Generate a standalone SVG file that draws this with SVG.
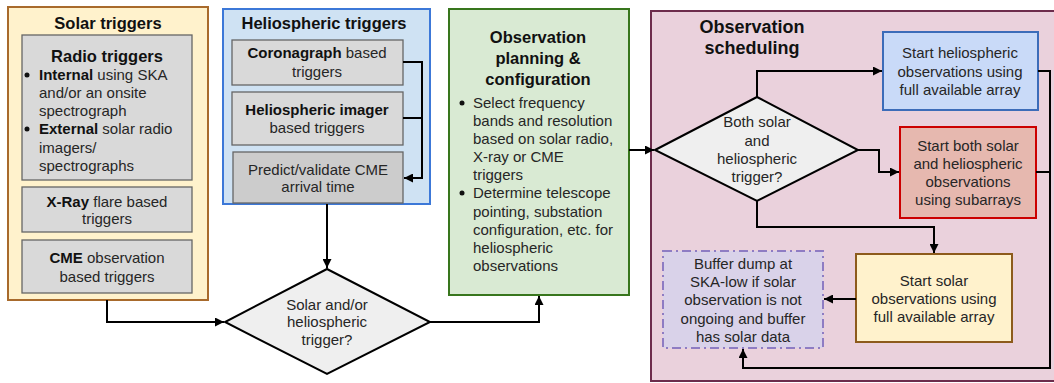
<svg xmlns="http://www.w3.org/2000/svg" width="1054" height="383" viewBox="0 0 1054 383">
<defs>
<marker id="arr" markerUnits="userSpaceOnUse" viewBox="0 0 10 10" refX="10" refY="5" markerWidth="11" markerHeight="9" orient="auto">
<path d="M0,0 L10,5 L0,10 z" fill="#000"/>
</marker>
</defs>
<style>
text{font-family:"Liberation Sans",Arial,sans-serif;font-size:15px;fill:#262626}
.c{text-anchor:middle}
.b{font-weight:bold;fill:#111}
.t{font-weight:bold;font-size:16.5px;fill:#111;text-anchor:middle}
.gray{fill:#d9d9d9;stroke:#666;stroke-width:1.3}
.line{fill:none;stroke:#000;stroke-width:2}
.dia{fill:#efefef;stroke:#000;stroke-width:2}
</style>
<g id="solar-triggers">
<rect x="8" y="7" width="200" height="293" fill="#fff2cc" stroke="#a86a2c" stroke-width="2"/>
<text x="108" y="29" class="t">Solar triggers</text>
</g>
<g id="radio-triggers">
<rect x="22" y="35" width="170" height="145" class="gray"/>
<text x="107" y="62" class="t">Radio triggers</text>
<circle cx="27" cy="75" r="2.5" fill="#111"/>
<circle cx="27" cy="129" r="2.5" fill="#111"/>
<text x="39" y="80"><tspan class="b">Internal</tspan> using SKA</text>
<text x="39" y="98">and/or an onsite</text>
<text x="39" y="116">spectrograph</text>
<text x="39" y="134"><tspan class="b">External</tspan> solar radio</text>
<text x="39" y="153">imagers/</text>
<text x="39" y="171">spectrographs</text>
</g>
<g id="xray-triggers">
<rect x="22" y="187" width="170" height="45" class="gray"/>
<text x="107" y="207" class="c"><tspan class="b">X-Ray</tspan> flare based</text>
<text x="107" y="224" class="c">triggers</text>
</g>
<g id="cme-triggers">
<rect x="22" y="240" width="170" height="53" class="gray"/>
<text x="107" y="263" class="c"><tspan class="b">CME</tspan> observation</text>
<text x="107" y="282" class="c">based triggers</text>
</g>
<g id="heliospheric-triggers">
<rect x="223" y="9" width="207" height="195" fill="#cfe2f3" stroke="#3c78d8" stroke-width="2"/>
<text x="324" y="29" class="t">Heliospheric triggers</text>
</g>
<g id="coronagraph">
<rect x="232" y="40" width="171" height="45" class="gray"/>
<text x="317" y="58" class="c"><tspan class="b">Coronagraph</tspan> based</text>
<text x="317" y="77" class="c">triggers</text>
</g>
<g id="helio-imager">
<rect x="232" y="92" width="171" height="53" class="gray"/>
<text x="317" y="115" class="c b">Heliospheric imager</text>
<text x="317" y="133" class="c">based triggers</text>
</g>
<g id="predict">
<rect x="233" y="152" width="170" height="51" fill="#cccccc" stroke="#666" stroke-width="1.3"/>
<text x="318" y="175" class="c">Predict/validate CME</text>
<text x="318" y="192" class="c">arrival time</text>
</g>
<g id="decision-trigger">
<polygon points="327,269 430,322 327,374 225,322" class="dia"/>
<text x="327" y="310" class="c">Solar and/or</text>
<text x="327" y="327" class="c">heliospheric</text>
<text x="327" y="345" class="c">trigger?</text>
</g>
<g id="planning">
<rect x="449" y="9" width="180" height="286" fill="#d9ead3" stroke="#38761d" stroke-width="2"/>
<text x="538" y="43" class="t">Observation</text>
<text x="538" y="64" class="t">planning &amp;</text>
<text x="538" y="85" class="t">configuration</text>
<circle cx="462" cy="103" r="2.5" fill="#111"/>
<circle cx="462" cy="193" r="2.5" fill="#111"/>
<text x="473" y="108">Select frequency</text>
<text x="473" y="126">bands and resolution</text>
<text x="473" y="144">based on solar radio,</text>
<text x="473" y="162">X-ray or CME</text>
<text x="473" y="180">triggers</text>
<text x="473" y="198">Determine telescope</text>
<text x="473" y="217">pointing, substation</text>
<text x="473" y="235">configuration, etc. for</text>
<text x="473" y="253">heliospheric</text>
<text x="473" y="271">observations</text>
</g>
<g id="scheduling">
<rect x="651" y="11" width="410" height="370" fill="#ead1dc" stroke="#6d2c4c" stroke-width="2"/>
<text x="752" y="33" class="t" style="font-size:18px">Observation</text>
<text x="752" y="54" class="t" style="font-size:18px">scheduling</text>
</g>
<g id="decision-both">
<polygon points="655,150 757,97 858,150 757,201" class="dia"/>
<text x="757" y="127" class="c">Both solar</text>
<text x="757" y="146" class="c">and</text>
<text x="757" y="164" class="c">heliospheric</text>
<text x="757" y="182" class="c">trigger?</text>
</g>
<g id="start-helio">
<rect x="883" y="32" width="155" height="78" fill="#c9daf8" stroke="#3c6cb9" stroke-width="2"/>
<text x="960" y="58" class="c">Start heliospheric</text>
<text x="960" y="77" class="c">observations using</text>
<text x="960" y="95" class="c">full available array</text>
</g>
<g id="start-both">
<rect x="900" y="127" width="136" height="91" fill="#e6b8af" stroke="#cc0000" stroke-width="2"/>
<text x="968" y="151" class="c">Start both solar</text>
<text x="968" y="169" class="c">and heliospheric</text>
<text x="968" y="187" class="c">observations</text>
<text x="968" y="205" class="c">using subarrays</text>
</g>
<g id="start-solar">
<rect x="856" y="254" width="156" height="88" fill="#fff2cc" stroke="#8d5b1c" stroke-width="2"/>
<text x="934" y="286" class="c">Start solar</text>
<text x="934" y="304" class="c">observations using</text>
<text x="934" y="322" class="c">full available array</text>
</g>
<g id="buffer-dump">
<rect x="663" y="251" width="160" height="97" fill="#d9d2e9" stroke="#8e7cc3" stroke-width="2" stroke-dasharray="9,4,2,4"/>
<text x="743" y="269" class="c">Buffer dump at</text>
<text x="743" y="287" class="c">SKA-low if solar</text>
<text x="743" y="305" class="c">observation is not</text>
<text x="743" y="324" class="c">ongoing and buffer</text>
<text x="743" y="342" class="c">has solar data</text>
</g>
<g id="connectors">
<path d="M403,62 H422 V178 H404" class="line" marker-end="url(#arr)"/>
<path d="M403,118 H422" class="line"/>
<path d="M327,204 V268" class="line" marker-end="url(#arr)"/>
<path d="M107,300 V322 H224" class="line" marker-end="url(#arr)"/>
<path d="M430,322 H539 V296" class="line" marker-end="url(#arr)"/>
<path d="M629,150 H654" class="line" marker-end="url(#arr)"/>
<path d="M757,97 V71 H882" class="line" marker-end="url(#arr)"/>
<path d="M858,150 H879 V172 H899" class="line" marker-end="url(#arr)"/>
<path d="M1038,71 H1050 V368 H743 V349" class="line" marker-end="url(#arr)"/>
<path d="M1036,172 H1050" class="line"/>
<path d="M757,201 V227 H934 V253" class="line" marker-end="url(#arr)"/>
<path d="M856,299 H824" class="line" marker-end="url(#arr)"/>
</g>
</svg>
